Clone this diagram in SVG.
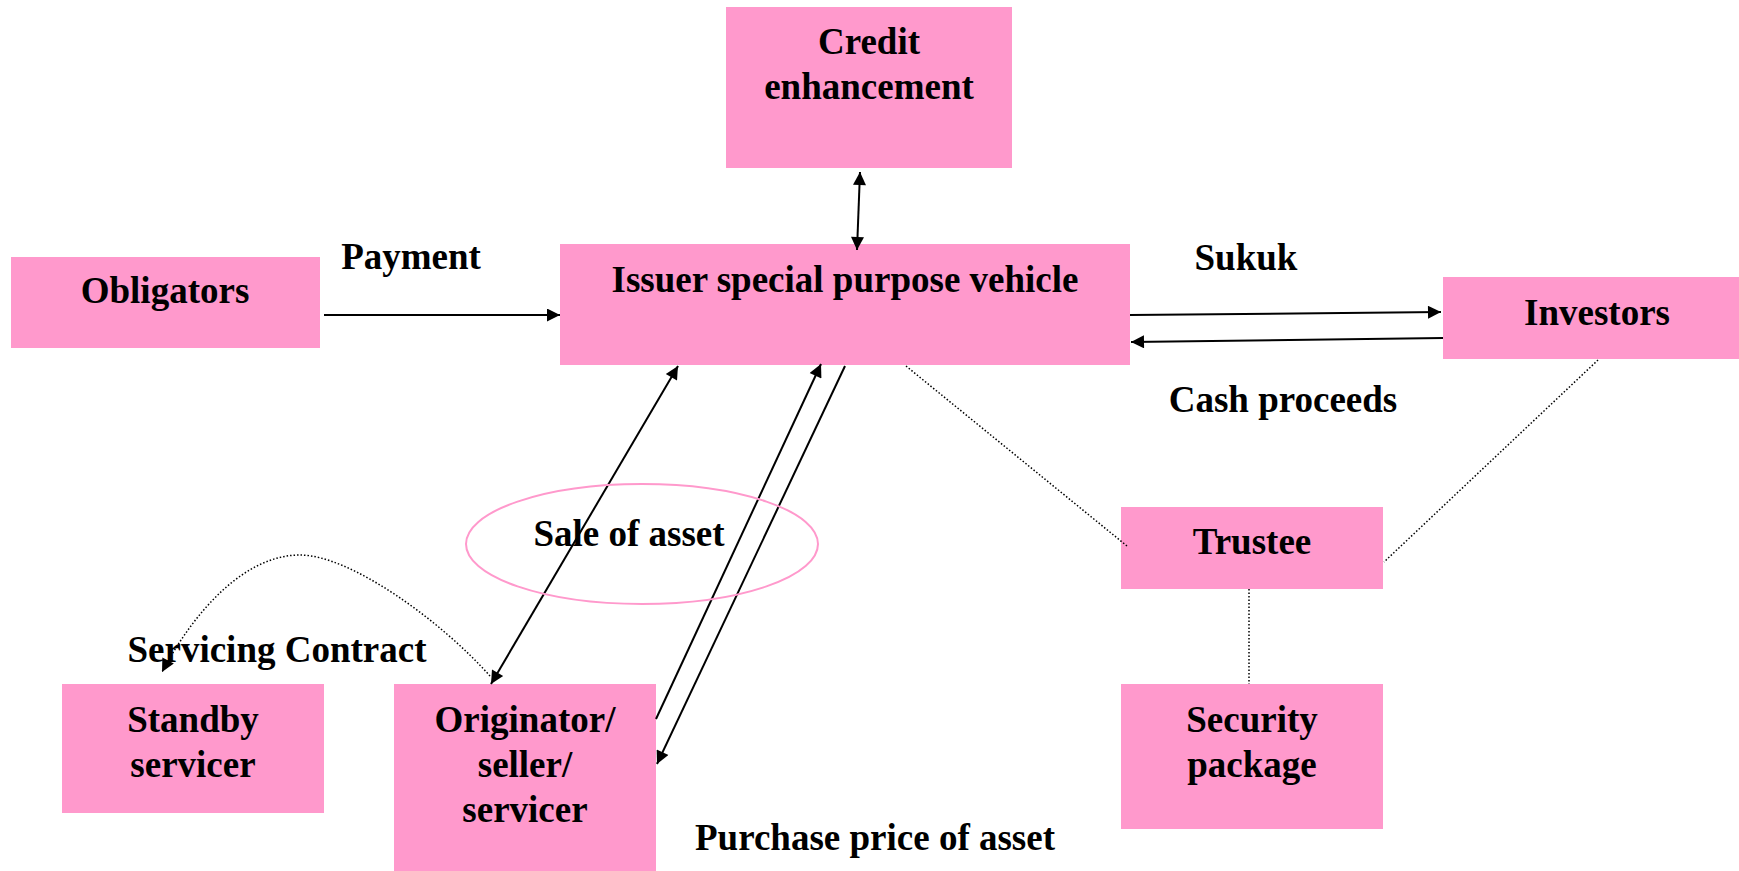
<svg xmlns="http://www.w3.org/2000/svg" width="1739" height="871" viewBox="0 0 1739 871">
<style>
  .box { fill: #FF99CC; }
  .t { font-family: "Liberation Serif", "Times New Roman", serif; font-weight: bold; font-size: 37px; fill: #000; text-anchor: middle; }
  .ln { stroke: #000; stroke-width: 2; fill: none; }
  .dot { stroke: #000; stroke-width: 1.5; stroke-dasharray: 1.5 2; fill: none; }
</style>
<defs>
  <marker id="ah" viewBox="0 0 10 10" refX="10" refY="5" markerUnits="userSpaceOnUse" markerWidth="15" markerHeight="13" orient="auto-start-reverse">
    <path d="M0,0 L10,5 L0,10 z" fill="#000"/>
  </marker>
</defs>
<rect width="1739" height="871" fill="#fff"/>

<g id="credit-enhancement">
  <rect class="box" x="726" y="7" width="286" height="161"/>
  <text class="t" x="869" y="54">Credit</text>
  <text class="t" x="869" y="99">enhancement</text>
</g>
<g id="obligators">
  <rect class="box" x="11" y="257" width="309" height="91"/>
  <text class="t" x="165" y="303">Obligators</text>
</g>
<g id="spv">
  <rect class="box" x="560" y="244" width="570" height="121"/>
  <text class="t" x="845" y="292">Issuer special purpose vehicle</text>
</g>
<g id="investors">
  <rect class="box" x="1443" y="277" width="296" height="82"/>
  <text class="t" x="1597" y="325">Investors</text>
</g>
<g id="trustee">
  <rect class="box" x="1121" y="507" width="262" height="82"/>
  <text class="t" x="1252" y="554">Trustee</text>
</g>
<g id="security-package">
  <rect class="box" x="1121" y="684" width="262" height="145"/>
  <text class="t" x="1252" y="732">Security</text>
  <text class="t" x="1252" y="777">package</text>
</g>
<g id="standby-servicer">
  <rect class="box" x="62" y="684" width="262" height="129"/>
  <text class="t" x="193" y="732">Standby</text>
  <text class="t" x="193" y="777">servicer</text>
</g>
<g id="originator">
  <rect class="box" x="394" y="684" width="262" height="187"/>
  <text class="t" x="525" y="732">Originator/</text>
  <text class="t" x="525" y="777">seller/</text>
  <text class="t" x="525" y="822">servicer</text>
</g>

<g id="connectors">
  <line class="ln" x1="857" y1="250" x2="860" y2="172" marker-start="url(#ah)" marker-end="url(#ah)"/>
  <line class="ln" x1="324" y1="315" x2="560" y2="315" marker-end="url(#ah)"/>
  <line class="ln" x1="1130" y1="315" x2="1441" y2="312" marker-end="url(#ah)"/>
  <line class="ln" x1="1443" y1="338" x2="1131" y2="342" marker-end="url(#ah)"/>
  <line class="ln" x1="491" y1="684" x2="678" y2="366" marker-start="url(#ah)" marker-end="url(#ah)"/>
  <line class="ln" x1="656" y1="719" x2="821" y2="364" marker-end="url(#ah)"/>
  <line class="ln" x1="845" y1="366" x2="657" y2="764" marker-end="url(#ah)"/>
  <line class="dot" x1="906" y1="366" x2="1127" y2="546"/>
  <line class="dot" x1="1598" y1="360" x2="1384" y2="562"/>
  <line class="dot" x1="1249" y1="589" x2="1249" y2="684"/>
  <path class="dot" d="M490 676 C440 620 350 555 300 555 C245 555 195 610 162 672" marker-end="url(#ah)"/>
  <ellipse cx="642" cy="544" rx="176" ry="60" fill="none" stroke="#FF99CC" stroke-width="2"/>
</g>

<g id="labels">
  <text class="t" x="411" y="269">Payment</text>
  <text class="t" x="1246" y="270">Sukuk</text>
  <text class="t" x="1283" y="412">Cash proceeds</text>
  <text class="t" x="629" y="546">Sale of asset</text>
  <text class="t" x="277" y="662">Servicing Contract</text>
  <text class="t" x="875" y="850">Purchase price of asset</text>
</g>
</svg>
